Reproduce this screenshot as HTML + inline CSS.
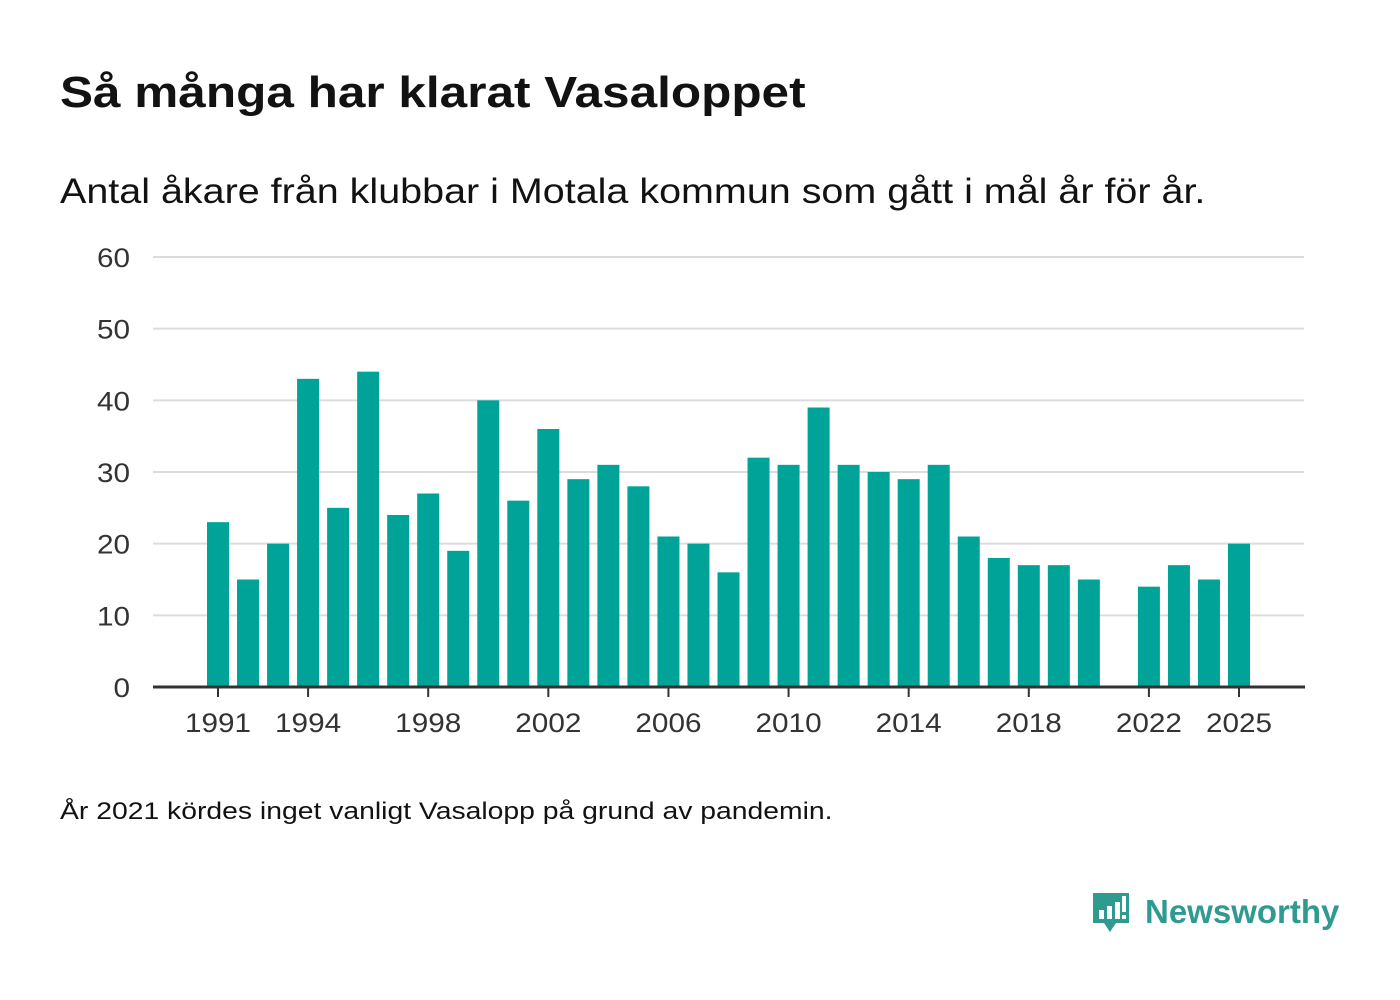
<!DOCTYPE html>
<html><head><meta charset="utf-8">
<style>
html,body{margin:0;padding:0;background:#fff;}
body{width:1400px;height:1000px;position:relative;overflow:hidden;font-family:"Liberation Sans","DejaVu Sans",sans-serif;color:#121212;}
#title{position:absolute;left:60px;top:68px;font-size:44px;font-weight:bold;margin:0;transform:scaleX(1.125);transform-origin:left;white-space:nowrap;}
#subtitle{position:absolute;left:60px;top:172px;font-size:35px;transform:scaleX(1.128);transform-origin:left;white-space:nowrap;}
#note{position:absolute;left:60px;top:798px;font-size:24px;transform:scaleX(1.18);transform-origin:left;white-space:nowrap;}
#logo{position:absolute;left:1090px;top:890px;}
</style></head><body>
<h1 id="title">Så många har klarat Vasaloppet</h1>
<div id="subtitle">Antal åkare från klubbar i Motala kommun som gått i mål år för år.</div>
<svg id="chart" width="1400" height="1000" style="position:absolute;left:0;top:0"></svg>
<div id="note">År 2021 kördes inget vanligt Vasalopp på grund av pandemin.</div>
<div id="logo">
<svg width="260" height="52">
<path d="M3 3h36v30H26l-6 9-6-9H3z" fill="#2f9a90"/>
<rect x="9" y="20" width="5" height="9" fill="#fff"/>
<rect x="17" y="16" width="5" height="13" fill="#fff"/>
<rect x="25" y="12" width="5" height="17" fill="#fff"/>
<rect x="32" y="6" width="4" height="16" fill="#fff"/>
<rect x="32" y="25" width="4" height="4" fill="#fff"/>
<text x="55" y="33" font-size="33" font-weight="bold" fill="#2f9a90" font-family="Liberation Sans, sans-serif">Newsworthy</text>
</svg></div>
<script>
const years=[1991,1992,1993,1994,1995,1996,1997,1998,1999,2000,2001,2002,2003,2004,2005,2006,2007,2008,2009,2010,2011,2012,2013,2014,2015,2016,2017,2018,2019,2020,2021,2022,2023,2024,2025];
const values=[23,15,20,43,25,44,24,27,19,40,26,36,29,31,28,21,20,16,32,31,39,31,30,29,31,21,18,17,17,15,null,14,17,15,20];
const yTicks=[0,10,20,30,40,50,60];
const xTicks=[1991,1994,1998,2002,2006,2010,2014,2018,2022,2025];
const NS="http://www.w3.org/2000/svg";
const svg=document.getElementById('chart');
const x=y=>218+(y-1991)*(1239-218)/34;
const yS=v=>687-v*(687-257)/60;
function mk(t,a){const e=document.createElementNS(NS,t);for(const k in a)e.setAttribute(k,a[k]);svg.appendChild(e);return e;}
yTicks.forEach(t=>{
  if(t>0){const g=mk('line',{x1:153,x2:1304,y1:yS(t),y2:yS(t),stroke:'#dcdcdc','stroke-width':2});
  
  }
  const l=mk('text',{x:130,y:yS(t)+10,'text-anchor':'end','font-size':27,fill:'#333'});
  l.textContent=t;
  l.setAttribute('transform','translate(130 0) scale(1.1 1) translate(-130 0)');
  
  
});
years.forEach((yr,i)=>{
  const v=values[i];if(v==null)return;
  const r=mk('rect',{x:x(yr)-11,y:yS(v),width:22,height:687-yS(v),fill:'#00a398'});
  
  
});
const ax=mk('line',{x1:153,x2:1305,y1:687,y2:687,stroke:'#333','stroke-width':3});


xTicks.forEach(t=>{
  const tk=mk('line',{x1:x(t),x2:x(t),y1:688,y2:697,stroke:'#333','stroke-width':2});
  
  
  const l=mk('text',{x:x(t),y:732,'text-anchor':'middle','font-size':27,fill:'#333'});
  l.textContent=t;
  l.setAttribute('transform','translate('+x(t)+' 0) scale(1.1 1) translate('+(-x(t))+' 0)');
  
  
});
</script>
</body></html>
